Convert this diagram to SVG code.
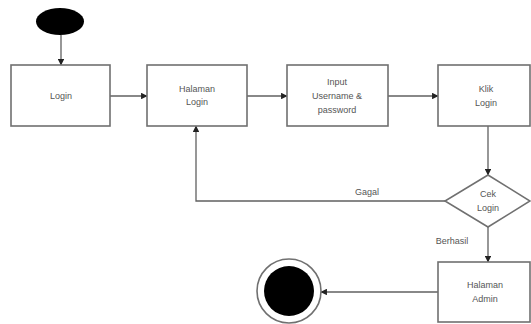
<svg xmlns="http://www.w3.org/2000/svg" width="531" height="324" viewBox="0 0 531 324">
<style>
.box{fill:#fff;stroke:#707070;stroke-width:1.6}
.t{font-family:"Liberation Sans",Arial,sans-serif;font-size:9px;fill:#555;text-anchor:middle}
.c{fill:none;stroke:#606060;stroke-width:1.3}
</style>
<defs>
<marker id="a" viewBox="0 0 6 6" refX="5.5" refY="3" markerWidth="5" markerHeight="5" orient="auto">
<path d="M0,0 L6,3 L0,6 z" fill="#222"/>
</marker>
</defs>
<rect width="531" height="324" fill="#fff"/>
<g id="connectors">
<path class="c" d="M61,35 V65" marker-end="url(#a)"/>
<path class="c" d="M110,96 H147" marker-end="url(#a)"/>
<path class="c" d="M247,96 H287" marker-end="url(#a)"/>
<path class="c" d="M388,96 H438" marker-end="url(#a)"/>
<path class="c" d="M488,126 V175" marker-end="url(#a)"/>
<path class="c" d="M445,201 H196 V126" marker-end="url(#a)"/>
<path class="c" d="M488,227 V262" marker-end="url(#a)"/>
<path class="c" d="M438,292 H321" marker-end="url(#a)"/>
<text class="t" x="367" y="195">Gagal</text>
<text class="t" x="452" y="244">Berhasil</text>
</g>
<g id="start"><ellipse cx="60" cy="21.5" rx="24" ry="13.5" fill="#000"/></g>
<g id="login"><rect class="box" x="11" y="65" width="99" height="61"/><text class="t" x="61" y="99">Login</text></g>
<g id="halaman-login"><rect class="box" x="147" y="65" width="100" height="61"/><text class="t" x="197" y="92">Halaman</text><text class="t" x="197" y="105">Login</text></g>
<g id="input"><rect class="box" x="287" y="65" width="101" height="61"/><text class="t" x="337" y="85">Input</text><text class="t" x="337" y="99">Username &amp;</text><text class="t" x="337" y="113">password</text></g>
<g id="klik-login"><rect class="box" x="438" y="65" width="92" height="61"/><text class="t" x="486" y="92">Klik</text><text class="t" x="486" y="106">Login</text></g>
<g id="cek-login"><polygon class="box" points="488,175 530,201 488,227 445,201"/><text class="t" x="488" y="197">Cek</text><text class="t" x="488" y="211">Login</text></g>
<g id="halaman-admin"><rect class="box" x="438" y="262" width="92" height="60"/><text class="t" x="485" y="288">Halaman</text><text class="t" x="485" y="302">Admin</text></g>
<g id="end"><circle cx="289" cy="291" r="32" fill="#fff" stroke="#707070" stroke-width="1.6"/><circle cx="289" cy="291" r="25" fill="#000"/></g>
</svg>
